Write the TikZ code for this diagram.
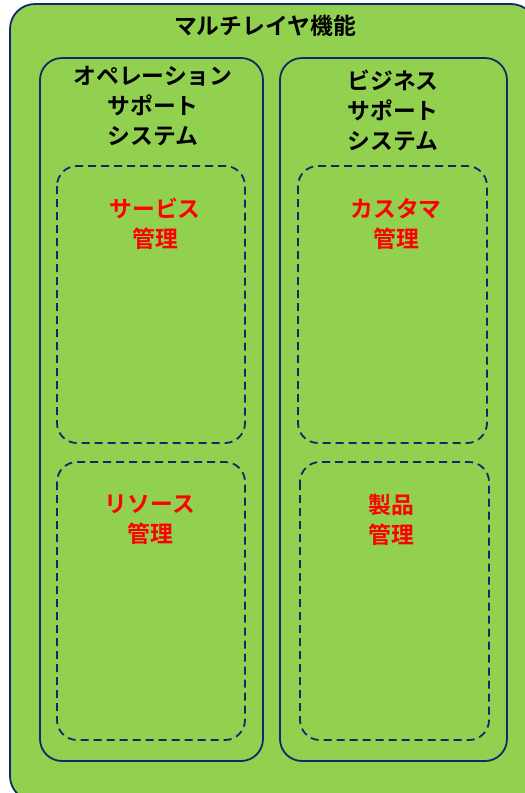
\documentclass[tikz,border=0pt]{standalone}
\usepackage{fontspec}
\newfontfamily\cjk{Noto Sans CJK JP}[BoldFont={* Bold}]
\definecolor{fillgreen}{HTML}{92D050}
\definecolor{navy}{HTML}{0F2A6B}
\begin{document}
\begin{tikzpicture}[x=1pt,y=-1pt,
  outerbox/.style={draw=navy,line width=1.8pt,fill=fillgreen,rounded corners=25pt},
  groupbox/.style={draw=navy,line width=1.8pt,rounded corners=22pt},
  dashbox/.style={draw=navy,line width=1.8pt,dash pattern=on 8pt off 5pt,rounded corners=20pt},
  title/.style={font=\cjk\bfseries\fontsize{22.8}{30}\selectfont,text=black,align=center,inner sep=0pt},
  redtitle/.style={font=\cjk\bfseries\fontsize{22.8}{30}\selectfont,text=red,align=center,inner sep=0pt}]
\useasboundingbox (0,0) rectangle (525,793);
\clip (0,0) rectangle (525,793);
\draw[outerbox] (10,4) rectangle (536,801);
\node[title] (main) at (265,26) {マルチレイヤ機能};
\draw[groupbox] (40,58) rectangle (263,761);
\draw[groupbox] (280,58) rectangle (507,761);
\node[title] (oss) at (153,106) {オペレーション\\サポート\\システム};
\node[title] (bss) at (393,110) {ビジネス\\サポート\\システム};
\draw[dashbox] (57,166) rectangle (245,443);
\draw[dashbox] (57,462) rectangle (245,740);
\draw[dashbox] (298,166) rectangle (487,443);
\draw[dashbox] (300,462) rectangle (489,740);
\node[redtitle] (svc) at (155,224) {サービス\\管理};
\node[redtitle] (cust) at (396,224) {カスタマ\\管理};
\node[redtitle] (res) at (150,520) {リソース\\管理};
\node[redtitle] (prod) at (391,520) {製品\\管理};
\end{tikzpicture}
\end{document}
